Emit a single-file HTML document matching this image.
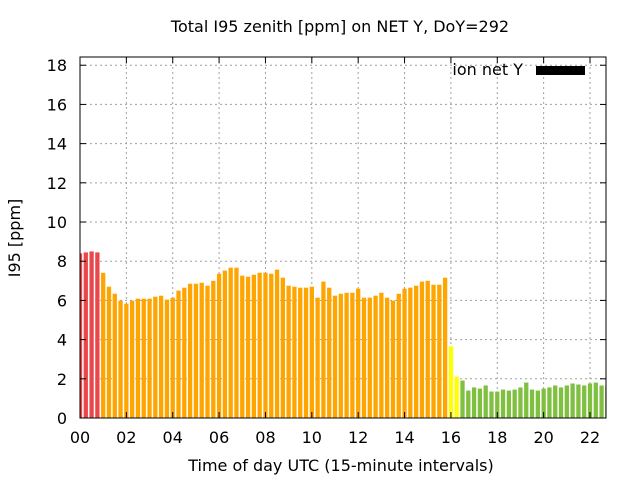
<!DOCTYPE html>
<html><head><meta charset="utf-8"><style>
body{margin:0;background:#fff}
svg text{font-family:"DejaVu Sans","Liberation Sans",sans-serif}
</style></head><body>
<svg id="c" width="640" height="480" xmlns="http://www.w3.org/2000/svg">
<text x="340" y="32" text-anchor="middle" font-size="16">Total I95 zenith [ppm] on NET Y, DoY=292</text>
<text x="341" y="471" text-anchor="middle" font-size="16">Time of day UTC (15-minute intervals)</text>
<text transform="translate(20,238) rotate(-90)" text-anchor="middle" font-size="16">I95 [ppm]</text>
<g id="grid"></g><g id="bars"></g><g id="axes"></g>
<g>
<text x="523" y="75" text-anchor="end" font-size="16">ion net Y</text>
<rect x="536" y="66" width="49" height="9" fill="#000"/>
</g>
</svg>
<script>
const values=[8.4,8.45,8.5,8.45,
7.41,6.7,6.34,5.99,5.83,5.99,6.09,6.09,6.09,6.19,6.24,6.04,6.14,6.5,6.65,6.85,6.85,6.9,6.75,7.0,7.36,7.52,7.67,7.67,7.26,7.21,7.31,
7.41,7.41,7.36,7.57,7.16,6.75,6.7,6.65,6.65,6.7,6.14,6.96,6.65,6.24,6.34,6.39,6.39,6.6,6.14,6.14,6.24,6.39,6.14,5.99,6.34,6.6,6.65,6.75,6.96,7.0,6.8,6.8,7.16,
3.66,2.11,
1.91,1.4,1.56,1.5,1.66,1.35,1.35,1.45,1.4,1.45,1.56,1.81,1.45,1.4,1.5,1.56,1.66,1.56,1.66,1.76,1.71,1.66,1.76,1.81,1.66,1.66];
const yTicks=[0,2,4,6,8,10,12,14,16,18];
const xTicks=[0,2,4,6,8,10,12,14,16,18,20,22];
const xTickLabels=["00","02","04","06","08","10","12","14","16","18","20","22"];
const X0=80,X1=606,Y0=418,Y1=57,XMAX=22.69,YMAX=18.42;
const NS="http://www.w3.org/2000/svg";
const xs=h=>X0+(X1-X0)*h/XMAX, ys=v=>Y0-(Y0-Y1)*v/YMAX;
function mk(t,a,p){const e=document.createElementNS(NS,t);for(const k in a)e.setAttribute(k,a[k]);p.appendChild(e);return e;}
const grid=document.getElementById('grid'),bars=document.getElementById('bars'),axes=document.getElementById('axes');
yTicks.forEach(v=>{const y=ys(v);
 if(v>0){const g=mk('line',{x1:X0,x2:X1,y1:y,y2:y,stroke:'#a0a0a0','stroke-dasharray':'2,3'},grid);
 
 }
 mk('line',{x1:X0,x2:X0+6,y1:y,y2:y,stroke:'#000'},axes);
 mk('line',{x1:X1-6,x2:X1,y1:y,y2:y,stroke:'#000'},axes);
 const t=mk('text',{x:X0-13,y:y+6,'text-anchor':'end','font-size':16},axes);t.textContent=v;
 
 
});
xTicks.forEach((h,i)=>{const x=xs(h);
 if(h>0){const g=mk('line',{x1:x,x2:x,y1:Y1,y2:Y0,stroke:'#a0a0a0','stroke-dasharray':'2,3'},grid);
 
 }
 mk('line',{x1:x,x2:x,y1:Y0,y2:Y0-6,stroke:'#000'},axes);
 mk('line',{x1:x,x2:x,y1:Y1,y2:Y1+6,stroke:'#000'},axes);
 const t=mk('text',{x:x,y:Y0+25,'text-anchor':'middle','font-size':16},axes);t.textContent=xTickLabels[i];
 
 
});
const bw=(xs(0.25)-xs(0))*0.74;
values.forEach((v,i)=>{const c=xs(i*0.25);let l=Math.max(X0,c-bw/2),r=Math.min(X1,c+bw/2);if(r<=l)return;
 const col=v>8?'#e8484c':v>4?'#ffa500':v>2?'#ffff00':'#80c040';
 const b=mk('rect',{x:l,y:ys(v),width:r-l,height:Y0-ys(v),fill:col},bars);
 
 
});
const f=mk('rect',{x:X0,y:Y1,width:X1-X0,height:Y0-Y1,fill:'none',stroke:'#000'},axes);


</script>
</body></html>
